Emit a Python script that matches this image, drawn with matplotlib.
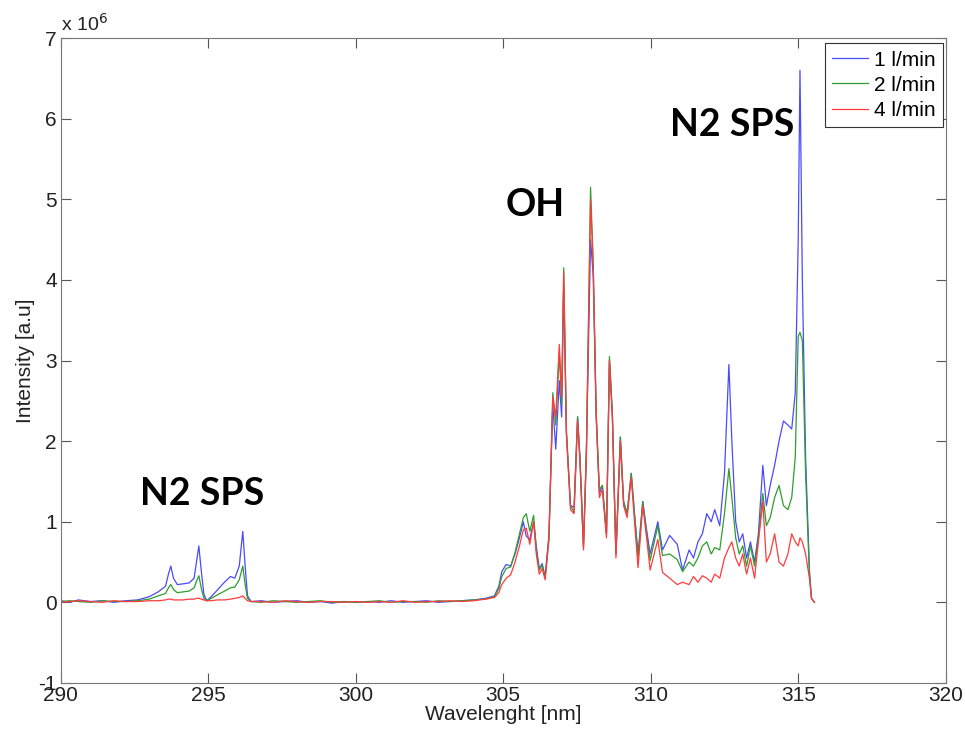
import matplotlib
matplotlib.use("Agg")
import matplotlib.pyplot as plt
from matplotlib.ticker import FuncFormatter

plt.rcParams['font.family'] = ['Liberation Sans', 'DejaVu Sans']
plt.rcParams['axes.unicode_minus'] = False

# intensities, in units of 1e6
scale = 1e6
wl = [290.0, 290.3, 290.6, 291.0, 291.4, 291.8, 292.2, 292.6, 293.0, 293.3,
      293.55, 293.65, 293.73, 293.82, 293.95, 294.15, 294.35, 294.52, 294.62, 294.68,
      294.76, 294.85, 294.95, 295.1, 295.3, 295.55, 295.75, 295.9, 296.05, 296.17,
      296.25, 296.33, 296.45, 296.8, 297.2, 297.6, 298.0, 298.4, 298.8, 299.2,
      299.6, 300.0, 300.4, 300.8, 301.2, 301.6, 302.0, 302.4, 302.8, 303.2,
      303.6, 304.0, 304.4, 304.7, 304.85, 304.95, 305.1, 305.25, 305.4, 305.55,
      305.68, 305.78, 305.9, 306.03, 306.12, 306.22, 306.32, 306.42, 306.55, 306.68,
      306.78, 306.9, 306.98, 307.05, 307.14, 307.28, 307.4, 307.52, 307.6, 307.72,
      307.82, 307.96, 308.05, 308.15, 308.26, 308.36, 308.5, 308.6, 308.7, 308.82,
      308.97, 309.08, 309.2, 309.34, 309.45, 309.57, 309.73, 309.86, 309.98, 310.24,
      310.4, 310.64, 310.9, 311.08, 311.3, 311.45, 311.6, 311.75, 311.9, 312.05,
      312.17, 312.34, 312.5, 312.65, 312.75, 312.88, 313.0, 313.12, 313.25, 313.38,
      313.52, 313.65, 313.8, 313.92, 314.05, 314.2, 314.35, 314.5, 314.65, 314.78,
      314.9, 315.0, 315.06, 315.14, 315.25, 315.38, 315.45, 315.55]

flow1 = [0.02, 0.00, 0.03, 0.01, 0.02, 0.00, 0.02, 0.03, 0.07, 0.13,
         0.20, 0.35, 0.45, 0.30, 0.22, 0.23, 0.24, 0.30, 0.55, 0.70,
         0.40, 0.10, 0.02, 0.07, 0.15, 0.25, 0.32, 0.30, 0.45, 0.88,
         0.45, 0.08, 0.01, 0.02, 0.00, 0.01, 0.02, 0.00, 0.01, -0.01,
         0.01, 0.00, 0.01, 0.00, 0.02, 0.00, 0.01, 0.02, 0.00, 0.01,
         0.02, 0.03, 0.05, 0.08, 0.20, 0.38, 0.47, 0.45, 0.60, 0.80,
         1.00, 0.82, 0.78, 1.00, 0.70, 0.42, 0.48, 0.32, 0.85, 2.45,
         1.90, 2.75, 2.30, 3.95, 2.10, 1.20, 1.18, 2.30, 1.80, 0.70,
         1.90, 4.50, 4.05, 2.30, 1.35, 1.45, 0.85, 3.00, 2.30, 0.60,
         2.05, 1.25, 1.10, 1.60, 1.10, 0.60, 1.25, 0.90, 0.60, 1.00,
         0.65, 0.83, 0.72, 0.40, 0.65, 0.55, 0.75, 0.85, 1.10, 1.00,
         1.15, 0.95, 1.60, 2.95, 2.00, 1.00, 0.75, 0.85, 0.55, 0.75,
         0.50, 0.85, 1.70, 1.20, 1.45, 1.70, 2.00, 2.25, 2.20, 2.15,
         2.60, 4.50, 6.60, 4.00, 1.80, 0.40, 0.05, 0.00]

flow2 = [0.01, 0.02, 0.01, 0.00, 0.02, 0.01, 0.01, 0.02, 0.04, 0.08,
         0.11, 0.18, 0.22, 0.16, 0.12, 0.13, 0.14, 0.18, 0.28, 0.33,
         0.18, 0.05, 0.02, 0.05, 0.09, 0.14, 0.18, 0.19, 0.28, 0.45,
         0.22, 0.05, 0.01, 0.00, 0.02, 0.01, 0.00, 0.01, 0.02, 0.00,
         0.01, 0.00, 0.01, 0.02, 0.00, 0.01, 0.01, 0.00, 0.02, 0.01,
         0.02, 0.03, 0.04, 0.07, 0.17, 0.32, 0.42, 0.44, 0.62, 0.85,
         1.05, 1.10, 0.88, 1.08, 0.65, 0.40, 0.46, 0.30, 0.80, 2.60,
         2.20, 3.10, 2.45, 4.15, 2.15, 1.20, 1.12, 2.30, 1.80, 0.68,
         1.90, 5.15, 4.20, 2.35, 1.40, 1.45, 0.85, 3.05, 2.35, 0.60,
         2.05, 1.25, 1.10, 1.60, 1.10, 0.55, 1.25, 0.85, 0.52, 0.95,
         0.58, 0.60, 0.53, 0.38, 0.50, 0.45, 0.55, 0.70, 0.75, 0.60,
         0.68, 0.65, 1.10, 1.66, 1.30, 0.80, 0.60, 0.70, 0.45, 0.70,
         0.45, 0.80, 1.35, 0.95, 1.05, 1.30, 1.45, 1.20, 1.15, 1.30,
         1.80, 3.30, 3.35, 3.25, 1.60, 0.35, 0.05, 0.00]

flow4 = [0.00, 0.01, 0.02, 0.01, 0.00, 0.02, 0.01, 0.01, 0.02, 0.02,
         0.03, 0.04, 0.04, 0.03, 0.03, 0.03, 0.04, 0.04, 0.05, 0.05,
         0.04, 0.03, 0.02, 0.02, 0.03, 0.03, 0.04, 0.05, 0.06, 0.08,
         0.05, 0.02, 0.01, 0.01, 0.00, 0.02, 0.01, 0.00, 0.01, 0.01,
         0.00, 0.01, 0.00, 0.01, 0.00, 0.02, 0.00, 0.01, 0.01, 0.02,
         0.01, 0.02, 0.04, 0.06, 0.12, 0.22, 0.30, 0.34, 0.50, 0.70,
         0.90, 0.92, 0.72, 1.00, 0.60, 0.35, 0.42, 0.28, 0.78, 2.55,
         2.30, 3.20, 2.55, 4.10, 2.10, 1.15, 1.10, 2.25, 1.75, 0.65,
         1.85, 5.00, 4.20, 2.35, 1.30, 1.40, 0.80, 3.00, 2.30, 0.55,
         2.00, 1.20, 1.05, 1.55, 1.00, 0.43, 1.20, 0.80, 0.40, 0.78,
         0.37, 0.30, 0.22, 0.25, 0.22, 0.32, 0.25, 0.33, 0.30, 0.25,
         0.35, 0.30, 0.55, 0.68, 0.75, 0.55, 0.45, 0.60, 0.35, 0.55,
         0.30, 0.75, 1.25, 0.50, 0.60, 0.85, 0.50, 0.45, 0.60, 0.85,
         0.75, 0.70, 0.80, 0.75, 0.60, 0.30, 0.05, 0.00]

labels = ['1 l/min', '2 l/min', '4 l/min']
colors = ['#4a4aff', '#2e9e2e', '#ff3b3b']

fig = plt.figure(figsize=(9.65, 7.32), dpi=100)
ax = fig.add_axes([0.063, 0.067, 0.917, 0.881])

for ys, lab, c in zip([flow1, flow2, flow4], labels, colors):
    ax.plot(wl, [v * scale for v in ys], color=c, lw=0.9, label=lab)

ax.set_xlim(290, 320)
ax.set_ylim(-1e6, 7e6)
ax.set_xticks(range(290, 321, 5))
ax.set_yticks([i * scale for i in range(-1, 8)])
ax.yaxis.set_major_formatter(FuncFormatter(lambda v, p: '%d' % round(v / scale)))
ax.text(0.0, 1.005, 'x 10$^{6}$', transform=ax.transAxes, fontsize=14,
        color='#222222', ha='left', va='bottom')

ax.tick_params(direction='in', top=True, right=True, labelsize=15, length=7,
               color='#555555', labelcolor='#222222')
ax.tick_params(axis='x', pad=2)
ax.tick_params(axis='y', pad=3)
for s in ax.spines.values():
    s.set_color('#777777')

ax.set_xlabel('Wavelenght [nm]', fontsize=15, labelpad=0, color='#222222')
ax.set_ylabel('Intensity [a.u]', fontsize=15, labelpad=2, color='#222222')

ax.text(294.8, 1.34e6, 'N2 SPS', family='Lato', weight='bold', fontsize=27, ha='center', va='center')
ax.text(306.07, 4.93e6, 'OH', family='Lato', weight='bold', fontsize=27, ha='center', va='center')
ax.text(312.75, 5.92e6, 'N2 SPS', family='Lato', weight='bold', fontsize=27, ha='center', va='center')

leg = ax.legend(loc='upper right', bbox_to_anchor=(0.997, 0.992), borderaxespad=0,
                fontsize=15, handlelength=1.7, labelspacing=0.3, borderpad=0.35,
                handletextpad=0.3, fancybox=False, framealpha=1)
leg.get_frame().set_edgecolor('#333333')
leg.get_frame().set_linewidth(0.8)

fig.savefig('out.png', dpi=100)
